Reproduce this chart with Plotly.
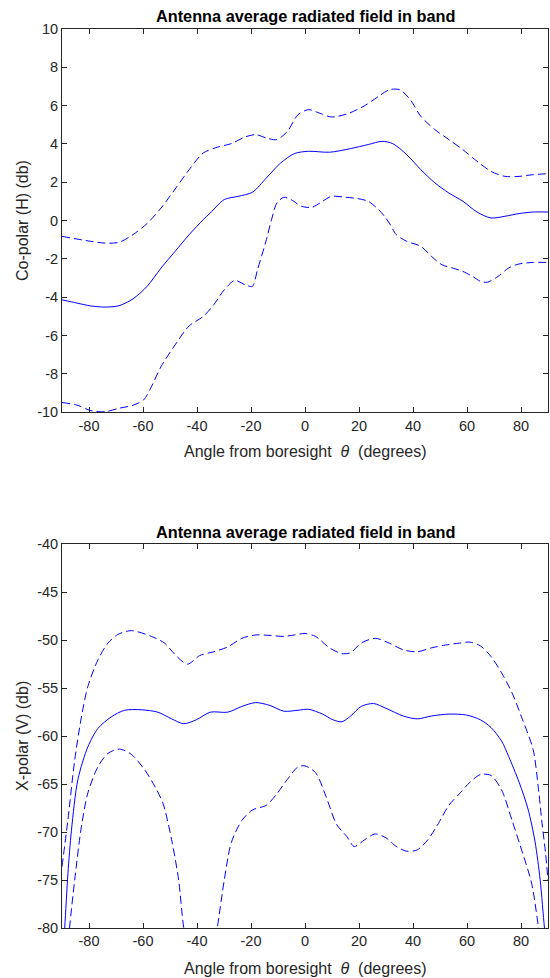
import plotly.graph_objects as go

# ---------------- data ----------------
# Top panel: co-polar (H)
theta_co = [-90, -84.5, -79.3, -74.1, -68.9, -63.7, -58.5, -53.3, -48.1, -42.9, -37.7, -35.1,
            -29.9, -24.7, -19.5, -14.3, -9.1, -3.9, 1.3, 9.1, 16.9, 23.4, 28.6, 32.5, 37.7,
            42.9, 48.1, 53.3, 58.5, 63.7, 68.9, 74.1, 79.3, 84.5, 90]
co_mean = [-4.13, -4.30, -4.45, -4.51, -4.44, -4.08, -3.43, -2.47, -1.60, -0.73, 0.05, 0.40,
           1.10, 1.27, 1.48, 2.23, 3.0, 3.5, 3.62, 3.57, 3.76, 3.97, 4.14, 4.02, 3.44,
           2.66, 1.97, 1.44, 1.01, 0.45, 0.14, 0.23, 0.37, 0.45, 0.45]

theta_co_hi = [-90, -79.3, -74.1, -68.9, -63.7, -58.5, -53.3, -48.1, -42.9, -37.7, -32.5, -27.3,
               -22.1, -18.2, -14.3, -10.4, -6.5, -2.6, 1.3, 5.2, 9.75, 15.6, 22.1, 27.3, 31.2,
               35.1, 39, 42.9, 48.1, 53.3, 58.5, 63.7, 68.9, 74.1, 79.3, 84.5, 90]
co_hi = [-0.82, -1.08, -1.17, -1.13, -0.73, -0.15, 0.66, 1.65, 2.66, 3.53, 3.83, 4.02,
         4.37, 4.49, 4.31, 4.23, 4.66, 5.53, 5.79, 5.62, 5.41, 5.57, 6.0, 6.49, 6.83,
         6.83, 6.31, 5.44, 4.75, 4.23, 3.7, 3.1, 2.57, 2.31, 2.31, 2.4, 2.45]

theta_co_lo = [-90, -84.5, -79.3, -74.1, -68.9, -63.7, -59.8, -57.2, -53.3, -48.1, -42.9, -37.7,
               -33.8, -29.9, -26, -22.1, -19.5, -17.6, -14.3, -12.4, -10.4, -7.8, -5.2, -1.3,
               2.6, 6.5, 9.75, 14.3, 19.5, 23.4, 27.3, 29.9, 31.2, 33.8, 37.7, 42.9, 46.8,
               50.7, 54.6, 58.5, 62.4, 65, 67.6, 71.5, 75.4, 79.3, 84.5, 90]
co_lo = [-9.49, -9.62, -9.91, -9.97, -9.79, -9.63, -9.36, -8.75, -7.61, -6.48, -5.49, -5.0,
         -4.39, -3.61, -3.12, -3.35, -3.43, -2.56, -0.99, 0.05, 0.92, 1.22, 1.10, 0.75,
         0.70, 1.01, 1.27, 1.23, 1.15, 1.01, 0.57, 0.14, -0.12, -0.73, -1.08, -1.34, -1.86,
         -2.30, -2.47, -2.65, -2.94, -3.17, -3.21, -2.91, -2.47, -2.26, -2.18, -2.18]

# Bottom panel: cross-polar (V)
theta_x = [-90, -89, -87.8, -86.5, -84.1, -80.4, -76.7, -71.8, -66.8, -60.7, -54.5, -49.4,
           -44.9, -40.3, -35.1, -28.6, -23.4, -18.2, -13, -7.8, -2.6, 1.3, 6.5, 10.4, 13.7,
           16.9, 20.8, 25.4, 30, 36.4, 41.6, 46.8, 53.3, 59.8, 65, 68.9, 72.8, 75.4, 79.3,
           82.6, 85.2, 87.1, 88.7, 90]
x_mean = [-84, -80, -74.3, -69.8, -64.5, -61.1, -59.2, -58.0, -57.3, -57.25, -57.5, -58.2,
          -58.7, -58.3, -57.5, -57.5, -56.9, -56.5, -56.8, -57.4, -57.3, -57.2, -57.7, -58.3, -58.5,
          -57.9, -56.9, -56.6, -57.1, -57.9, -58.2, -57.9, -57.7, -57.8, -58.3, -59.1, -60.5,
          -62.1, -64.8, -67.6, -71.0, -75.0, -80, -83]

theta_x_hi = [-90, -87.8, -85.3, -82.8, -80.4, -76.7, -73, -69.3, -64.3, -56.9, -52, -48.1,
              -43.6, -39, -33.8, -28.6, -23.4, -18.2, -13, -7.8, -3.9, 0, 3.9, 9.1, 13.7, 16.9,
              20.8, 26, 31.2, 36.4, 41.6, 46.8, 52, 57.2, 61.1, 65, 68.9, 72.8, 76.7, 80.6,
              84.5, 86.5, 87.8, 89.1, 90]
x_hi = [-73.6, -68.7, -62.5, -58.0, -54.8, -52.05, -50.3, -49.4, -49.0, -49.6, -50.3, -51.5,
        -52.5, -51.6, -51.2, -50.7, -49.8, -49.45, -49.5, -49.6, -49.45, -49.3, -49.6, -50.8,
        -51.4, -51.3, -50.3, -49.8, -50.3, -51.0, -51.2, -50.8, -50.5, -50.3, -50.2, -50.6,
        -51.7, -53.4, -55.5, -58.3, -61.4, -65.6, -69.1, -72.2, -75.0]

theta_x_lo = [-90, -87.2, -85.3, -82.8, -80.4, -76.7, -73, -68.7, -64.3, -59.4, -55.7, -52.6,
              -49.4, -46.8, -44.9, -42, -38.5, -35, -32.5, -29.9, -27.3, -23.4, -19.5, -14.3,
              -10.4, -6.5, -2.6, 0, 3.9, 7.8, 11.7, 15.6, 18.2, 22.1, 26, 30, 33.8, 37.7, 41.6,
              45.5, 49.4, 53.3, 57.2, 61.1, 65, 68.9, 72.8, 76.7, 80.6, 83.9, 86.5, 90]
x_lo = [-90, -80, -75.0, -69.4, -65.9, -63.2, -61.8, -61.35, -61.9, -63.5, -65.2, -67.0,
        -70.8, -75.0, -80, -84, -86, -84, -80, -75.0, -71.1, -68.8, -67.7, -67.2,
        -66.0, -64.5, -63.2, -63.1, -63.8, -66.3, -69.2, -70.5, -71.5, -70.8, -70.2, -70.6,
        -71.5, -72.0, -71.85, -70.8, -69.1, -67.2, -66.0, -64.8, -64.0, -64.1, -65.6, -68.8,
        -72.2, -75.3, -80, -88]

x_ticks = [-80, -60, -40, -20, 0, 20, 40, 60, 80]
y_ticks_top = [-10, -8, -6, -4, -2, 0, 2, 4, 6, 8, 10]
y_ticks_bot = [-80, -75, -70, -65, -60, -55, -50, -45, -40]

title_text = "Antenna average radiated field in band"
xlabel_text = "Angle from boresight  <i>θ</i>  (degrees)"
ylabel_top = "Co-polar (H) (db)"
ylabel_bot = "X-polar (V) (db)"

# ---------------- layout geometry ----------------
W, H = 550, 978
ML, MR, MT, MB = 62, 2, 29, 50
PW, PH = W - ML - MR, H - MT - MB


def px(xp):
    return (xp - ML) / PW


def py(yp):
    return (H - MB - yp) / PH


top_dom = [py(412.3), 1.0]
bot_dom = [0.0, py(544.3)]

BLUE = "rgb(0,0,255)"
AX = "#262626"
FONT = "Liberation Sans, Arial, sans-serif"
DASH = "8px,4px"

fig = go.Figure()


def add(xs, ys, dash, xa, ya):
    fig.add_trace(go.Scatter(
        x=xs, y=ys, mode="lines", xaxis=xa, yaxis=ya, showlegend=False,
        line=dict(color=BLUE, width=1, dash=dash, shape="spline", smoothing=0.8),
        hoverinfo="x+y"))


add(theta_co, co_mean, "solid", "x", "y")
add(theta_co_hi, co_hi, DASH, "x", "y")
add(theta_co_lo, co_lo, DASH, "x", "y")
add(theta_x, x_mean, "solid", "x2", "y2")
add(theta_x_hi, x_hi, DASH, "x2", "y2")
add(theta_x_lo, x_lo, DASH, "x2", "y2")


def lab(v):
    return str(v).replace("−", "-")


axis_common = dict(
    showline=True, linecolor=AX, linewidth=1, mirror="ticks",
    ticks="inside", ticklen=5, tickwidth=1, tickcolor=AX,
    showgrid=False, zeroline=False,
    tickfont=dict(family=FONT, size=14.5, color=AX),
)

fig.update_layout(
    width=W, height=H,
    margin=dict(l=ML, r=MR, t=MT, b=MB, pad=0),
    paper_bgcolor="white", plot_bgcolor="white",
    font=dict(family=FONT, color=AX),
    xaxis=dict(domain=[0, 1], range=[-90, 90], tickvals=x_ticks, ticktext=[lab(v) for v in x_ticks],
               anchor="y", **axis_common),
    yaxis=dict(domain=top_dom, range=[-10, 10], tickvals=y_ticks_top,
               ticktext=[lab(v) for v in y_ticks_top], anchor="x", **axis_common),
    xaxis2=dict(domain=[0, 1], range=[-90, 90], tickvals=x_ticks, ticktext=[lab(v) for v in x_ticks],
                anchor="y2", **axis_common),
    yaxis2=dict(domain=bot_dom, range=[-80, -40], tickvals=y_ticks_bot,
                ticktext=[lab(v) for v in y_ticks_bot], anchor="x2", **axis_common),
)

ann = []
for (ty, xly, yl, yc) in [(16, 451, ylabel_top, 221), (532, 968, ylabel_bot, 736)]:
    ann.append(dict(text="<b>" + title_text + "</b>", x=px(305), y=py(ty), xref="paper", yref="paper",
                    xanchor="center", yanchor="middle", showarrow=False,
                    font=dict(family=FONT, size=16.3, color="black")))
    ann.append(dict(text=xlabel_text, x=px(305), y=py(xly), xref="paper", yref="paper",
                    xanchor="center", yanchor="middle", showarrow=False,
                    font=dict(family=FONT, size=16, color=AX)))
    ann.append(dict(text=yl, x=px(22), y=py(yc), xref="paper", yref="paper",
                    xanchor="center", yanchor="middle", showarrow=False, textangle=-90,
                    font=dict(family=FONT, size=16, color=AX)))
fig.update_layout(annotations=ann)

fig.write_html("out.html", config={"displayModeBar": False},
               post_script="document.body.style.margin='0';document.body.style.overflow='hidden';")
